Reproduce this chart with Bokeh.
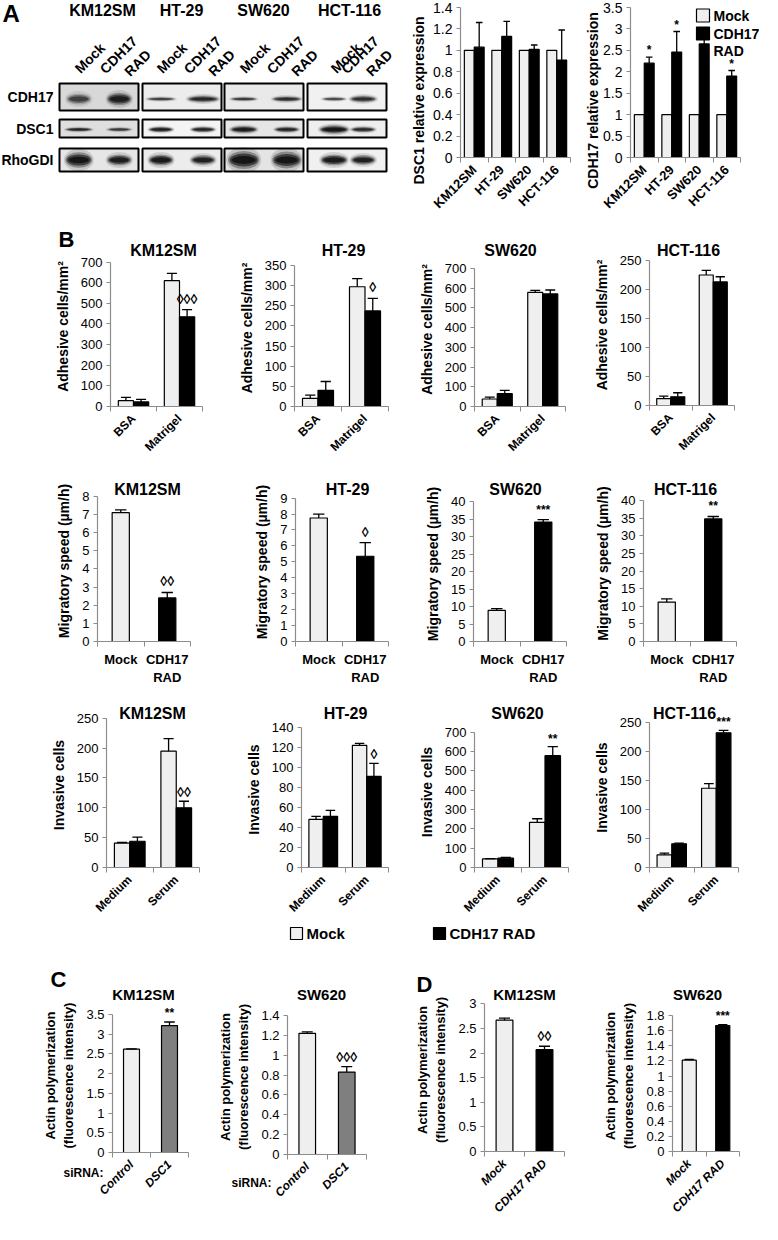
import math
from bokeh.plotting import figure
from bokeh.models import (Range1d, FixedTicker, NumeralTickFormatter, LabelSet, ColumnDataSource)
from bokeh.layouts import column, row
from bokeh.embed import file_html
from bokeh.resources import INLINE
from bokeh.core.properties import value

FONT = "Liberation Sans"
MOCK_C = "#efefef"
RAD_C = "#000000"
SI_C = "#7f7f7f"
AX_C = "#8c8c8c"
DM = "\u25ca"

# ---------------- DATA ----------------
cell_lines = ["KM12SM", "HT-29", "SW620", "HCT-116"]
legend_labels = ["Mock", "CDH17 RAD"]

# Panel A western blot: band strength (0-1), band width, band thickness (per cell line x [Mock, RAD])
blot_rows = ["CDH17", "DSC1", "RhoGDI"]
blot_lanes = ["Mock", "CDH17\nRAD"]
blot_strength = [
    [0.6, 0.9, 0.6, 0.8, 0.65, 0.75, 0.55, 0.75],
    [0.8, 0.65, 0.9, 0.85, 0.95, 0.85, 1.0, 0.8],
    [1.0, 0.9, 0.95, 0.9, 1.0, 1.0, 0.95, 0.9],
]
blot_width = [
    [22, 22, 26, 28, 24, 26, 22, 24],
    [24, 22, 22, 22, 24, 22, 26, 22],
    [24, 22, 22, 22, 28, 26, 24, 22],
]
blot_thick = [
    [8, 9, 3, 5, 3, 4, 3, 5],
    [3, 3, 4, 4, 5, 4, 6, 4],
    [11, 8, 8, 7, 13, 12, 8, 7],
]
blot_bg = [
    ["#d8d8d8", "#ececec", "#e9e9e9", "#f1f1f1"],
    ["#dedede", "#f4f4f4", "#e6e6e6", "#eeeeee"],
    ["#e6e6e6", "#ececec", "#e4e4e4", "#f0f0f0"],
]

# Panel A bar charts
a_mock = [1.0, 1.0, 1.0, 1.0]
a_mock_sd = [0, 0, 0, 0]
a_dsc1_rad = [1.03, 1.13, 1.01, 0.91]
a_dsc1_rad_sd = [0.23, 0.14, 0.04, 0.28]
a_cdh17_rad = [2.2, 2.46, 2.65, 1.9]
a_cdh17_rad_sd = [0.14, 0.48, 0.35, 0.13]
a_cdh17_sig = ["*", "*", "**", "*"]

# Panel B adhesion
adh_cats = ["BSA", "Matrigel"]
adh_mock = [[28, 610], [20, 297], [38, 578], [12, 225]]
adh_mock_sd = [[16, 35], [8, 20], [9, 10], [4, 8]]
adh_rad = [[22, 435], [40, 237], [65, 570], [15, 213]]
adh_rad_sd = [[13, 35], [22, 31], [17, 20], [7, 9]]
adh_sig = [["", DM * 3], ["", DM], ["", ""], ["", ""]]
adh_ymax = [700, 350, 700, 250]
adh_step = [100, 50, 100, 50]

# Panel B migration
mig_cats = ["Mock", "CDH17\nRAD"]
mig_vals = [[7.1, 2.4], [7.75, 5.35], [8.9, 34.2], [11.2, 34.8]]
mig_sd = [[0.15, 0.3], [0.25, 0.85], [0.5, 0.7], [0.9, 0.7]]
mig_sig = [["", DM * 2], ["", DM], ["", "***"], ["", "**"]]
mig_ymax = [8, 9, 40, 40]
mig_step = [1, 1, 5, 5]

# Panel B invasion
inv_cats = ["Medium", "Serum"]
inv_mock = [[41, 195], [48, 122], [45, 233], [22, 137]]
inv_mock_sd = [[1, 21], [3, 2], [1, 19], [3, 8]]
inv_rad = [[44, 100], [51, 91], [48, 578], [41, 233]]
inv_rad_sd = [[7, 11], [6, 13], [4, 47], [1, 4]]
inv_sig = [["", DM * 2], ["", DM], ["", "**"], ["", "***"]]
inv_ymax = [250, 140, 700, 250]
inv_step = [50, 20, 100, 50]

# Panel C (siRNA) and D
cd_lines = ["KM12SM", "SW620"]
c_cats = ["Control", "DSC1"]
c_vals = [[2.62, 3.22], [1.22, 0.83]]
c_sd = [[0.01, 0.09], [0.015, 0.055]]
c_sig = [["", "**"], ["", DM * 3]]
c_ymax = [3.5, 1.4]
c_step = [0.5, 0.2]
d_cats = ["Mock", "CDH17 RAD"]
d_vals = [[2.67, 2.07], [1.21, 1.67]]
d_sd = [[0.04, 0.07], [0.01, 0.01]]
d_sig = [["", DM * 2], ["", "***"]]
d_ymax = [3, 1.8]
d_step = [0.5, 0.2]


# ---------------- HELPERS ----------------
def G(x0, x1, fl, fr, ft, fb):
    return dict(x0=x0, x1=x1, fl=fl, fr=fr, ft=ft, fb=fb)


def bar_panel(g, h, ymax, ystep, cats, series, sig=None, sig_idx=0, ylab=None, bw=0.33,
              tick_fs="13px", lab_fs="14px", cat_fs="12px", cat_angle=math.pi / 4,
              cat_style="bold", lab_standoff=7, sig_off=2, ext=16):
    n = len(cats)
    y_end = ymax * (1 + ext / float(g["fb"] - g["ft"]))
    p = figure(width=g["x1"] - g["x0"], height=h, output_backend="svg", toolbar_location=None,
               x_range=Range1d(0.5, n + 0.5), y_range=Range1d(0, y_end),
               min_border_left=g["fl"] - g["x0"], min_border_right=g["x1"] - g["fr"],
               min_border_top=g["ft"] - ext, min_border_bottom=h - g["fb"])
    p.grid.visible = False
    p.outline_line_color = None
    ns = len(series)
    pos = []
    for k, (vals, sds, colors) in enumerate(series):
        off = (k - (ns - 1) / 2.0) * bw
        xs = [i + 1 + off for i in range(n)]
        pos.append(xs)
        p.vbar(x=xs, top=vals, width=bw, bottom=0, fill_color=colors,
               line_color="black", line_width=1.2)
        ex = [x for x, s in zip(xs, sds) if s > 0]
        ey0 = [v for v, s in zip(vals, sds) if s > 0]
        ey1 = [v + s for v, s in zip(vals, sds) if s > 0]
        if ex:
            cw = bw * 0.33
            p.segment(x0=ex, y0=ey0, x1=ex, y1=ey1, line_color="black", line_width=1.3)
            p.segment(x0=[x - cw for x in ex], y0=ey1, x1=[x + cw for x in ex], y1=ey1,
                      line_color="black", line_width=1.3)
    if sig is not None:
        vals, sds, _ = series[sig_idx]
        sig_fs = "12px" if any("*" in s for s in sig) else "14px"
        src = ColumnDataSource(dict(x=pos[sig_idx], y=[v + s for v, s in zip(vals, sds)], t=sig))
        p.add_layout(LabelSet(x="x", y="y", text="t", source=src, y_offset=sig_off,
                              text_align="center", text_baseline="bottom",
                              text_font=value(FONT), text_font_size=value(sig_fs),
                              text_font_style="bold", text_color="black"))
    ya = p.yaxis[0]
    yt = [round(i * ystep, 6) for i in range(int(round(ymax / ystep)) + 1)]
    ya.ticker = FixedTicker(ticks=yt)
    ya.bounds = (0, ymax)
    ya.formatter = NumeralTickFormatter(format="0.[0]")
    ya.major_tick_out = 4
    ya.major_tick_in = 0
    ya.minor_tick_out = 0
    ya.minor_tick_in = 0
    ya.major_label_standoff = 4
    ya.major_label_text_font_size = tick_fs
    xa = p.xaxis[0]
    xa.ticker = FixedTicker(ticks=list(range(1, n + 1)), minor_ticks=[i + 0.5 for i in range(n + 1)])
    xa.major_label_overrides = {i + 1: c for i, c in enumerate(cats)}
    xa.major_tick_out = 0
    xa.major_tick_in = 0
    xa.minor_tick_out = 5
    xa.minor_tick_in = 0
    xa.major_label_orientation = cat_angle
    xa.major_label_text_font_size = cat_fs
    xa.major_label_text_font_style = cat_style
    xa.major_label_standoff = 5
    for ax in (xa, ya):
        ax.axis_line_color = AX_C
        ax.axis_line_width = 1.2
        ax.major_tick_line_color = AX_C
        ax.minor_tick_line_color = AX_C
        ax.major_label_text_font = FONT
        ax.major_label_text_color = "black"
    if ylab:
        ya.axis_label = ylab
        ya.axis_label_text_font = FONT
        ya.axis_label_text_font_size = lab_fs
        ya.axis_label_text_font_style = "bold"
        ya.axis_label_standoff = lab_standoff
        ya.axis_label_text_color = "black"
    return p


def blank(w, h):
    b = figure(width=w, height=h, output_backend="svg", toolbar_location=None,
               x_range=Range1d(0, 1), y_range=Range1d(0, 1), min_border=0,
               x_axis_location=None, y_axis_location=None)
    b.grid.visible = False
    b.outline_line_color = None
    return b


def wrap(figs):
    return row(*[column(f) for f in figs])


# ---------------- ROW A ----------------
HA = 220
# western blot geometry (pixels of the blot picture)
pl = [58, 141, 223, 306]
pw = 81
rt = [82, 118, 147]
rb = [111, 138, 172]
lane_frac = [[0.25, 0.75], [0.24, 0.76], [0.25, 0.78], [0.34, 0.70]]
band_dy = [2, 1, 0]

# lane labels: rotated labels of an axis hanging under a thin top strip
lane_head = figure(width=395, height=HA, output_backend="svg", toolbar_location=None,
                   x_range=Range1d(0, 395), y_range=Range1d(0, 1), min_border_left=0,
                   min_border_right=0, min_border_top=0, min_border_bottom=HA - 36,
                   y_axis_location=None)
lane_head.grid.visible = False
lane_head.outline_line_color = None
lane_ticks, lane_text = [], []
for i in range(4):
    for j in range(2):
        lane_ticks.append(int(round(pl[i] + lane_frac[i][j] * pw + (24 if j == 0 else 22))))
        lane_text.append(blot_lanes[j])
lx = lane_head.xaxis[0]
lx.ticker = FixedTicker(ticks=lane_ticks)
lx.major_label_overrides = {t: s for t, s in zip(lane_ticks, lane_text)}
lx.major_label_orientation = math.pi / 4
lx.major_label_text_font = FONT
lx.major_label_text_font_style = "bold"
lx.major_label_text_font_size = "14px"
lx.major_label_text_color = "black"
lx.major_label_standoff = 3
lx.axis_line_color = None
lx.major_tick_line_color = None
lx.minor_tick_line_color = None

gA1 = G(395, 575, 460, 570, 7, 157)
pA1 = bar_panel(gA1, HA, 1.4, 0.2, cell_lines,
                [(a_mock, a_mock_sd, MOCK_C), (a_dsc1_rad, a_dsc1_rad_sd, RAD_C)],
                bw=0.36, tick_fs="14px", cat_fs="13px", ext=0)
gA2 = G(575, 762, 630, 740, 7, 157)
pA2 = bar_panel(gA2, HA, 3.5, 0.5, cell_lines,
                [(a_mock, a_mock_sd, MOCK_C), (a_cdh17_rad, a_cdh17_rad_sd, RAD_C)],
                sig=a_cdh17_sig, sig_idx=1, bw=0.36, tick_fs="14px", cat_fs="13px", sig_off=0,
                ext=0)
rowA = wrap([lane_head, pA1, pA2])

# ---------------- ROW B ----------------
fig_x = [(0, 235), (235, 415), (415, 590), (590, 762)]
adh_fr = [(110, 202, 42, 190), (293, 388, 45, 187), (471, 565, 48, 188), (643, 734, 40, 185)]
mig_fr = [(97, 190, 35, 182), (295, 388, 37, 184), (473, 566, 41, 187), (643, 736, 40, 189)]
inv_fr = [(106, 199, 31, 182), (301, 388, 40, 182), (471, 568, 45, 184), (641, 738, 36, 186)]
HB1, HB2, HB3, HL, HCD = 241, 226, 235, 24, 276

b1, b2, b3 = [], [], []
for i in range(4):
    g = G(fig_x[i][0], fig_x[i][1], *adh_fr[i])
    b1.append(bar_panel(g, HB1, adh_ymax[i], adh_step[i], adh_cats,
                        [(adh_mock[i], adh_mock_sd[i], MOCK_C), (adh_rad[i], adh_rad_sd[i], RAD_C)],
                        sig=adh_sig[i], sig_idx=1, ylab="Adhesive cells/mm\u00b2", sig_off=3))
    g = G(fig_x[i][0], fig_x[i][1], *mig_fr[i])
    b2.append(bar_panel(g, HB2, mig_ymax[i], mig_step[i], mig_cats,
                        [(mig_vals[i], mig_sd[i], [MOCK_C, RAD_C])], sig=mig_sig[i], sig_idx=0,
                        ylab="Migratory speed (\u00b5m/h)", bw=0.37, cat_fs="13px",
                        cat_angle="horizontal", sig_off=3))
    g = G(fig_x[i][0], fig_x[i][1], *inv_fr[i])
    b3.append(bar_panel(g, HB3, inv_ymax[i], inv_step[i], inv_cats,
                        [(inv_mock[i], inv_mock_sd[i], MOCK_C), (inv_rad[i], inv_rad_sd[i], RAD_C)],
                        sig=inv_sig[i], sig_idx=1, ylab="Invasive cells", sig_off=1))

# ---------------- ROW C / D ----------------
cd_x = [(0, 215), (215, 400), (400, 600), (600, 762)]
cd_fr = [(112, 188, 68, 206), (287, 366, 69, 208), (484, 564, 58, 211), (665, 739, 70, 213)]
ACT = "Actin polymerization\n(fluorescence intensity)"
cd = []
for j in range(2):
    g = G(cd_x[j][0], cd_x[j][1], *cd_fr[j])
    cd.append(bar_panel(g, HCD, c_ymax[j], c_step[j], c_cats, [(c_vals[j], c_sd[j], [MOCK_C, SI_C])],
                        sig=c_sig[j], sig_idx=0, ylab=ACT, bw=0.42, lab_fs="13px",
                        cat_style="bold italic", sig_off=2))
for j in range(2):
    g = G(cd_x[j + 2][0], cd_x[j + 2][1], *cd_fr[j + 2])
    cd.append(bar_panel(g, HCD, d_ymax[j], d_step[j], d_cats, [(d_vals[j], d_sd[j], [MOCK_C, RAD_C])],
                        sig=d_sig[j], sig_idx=0, ylab=ACT, bw=0.42, lab_fs="13px",
                        cat_style="bold italic", sig_off=2))

# ---------------- OVERLAY: blot, panel letters, titles, legends ----------------
TOTAL = HA + HB1 + HB2 + HB3 + HL + HCD
oB1 = HA
oB2 = oB1 + HB1
oB3 = oB2 + HB2
oL = oB3 + HB3
oCD = oL + HL

ov = figure(width=762, height=TOTAL, output_backend="svg", toolbar_location=None,
            x_range=Range1d(0, 762), y_range=Range1d(0, TOTAL), min_border=0,
            x_axis_location=None, y_axis_location=None, margin=(-TOTAL, 0, 0, 0))
ov.grid.visible = False
ov.outline_line_color = None
ov.background_fill_alpha = 0
ov.border_fill_alpha = 0


def Y(v):
    return TOTAL - v


def otext(xs, ys, texts, size, align="center", style="bold", baseline="middle", angle=0.0):
    ov.text(x=xs, y=[Y(y) for y in ys], text=texts, text_font=value(FONT),
            text_font_size=value(size), text_font_style=style, text_align=align,
            text_baseline=baseline, text_color="black", angle=angle)


def okeys(xs, ys, colors, size=13):
    ov.rect(x=[x + size / 2.0 for x in xs], y=[Y(y) for y in ys], width=size, height=size,
            fill_color=colors, line_color="black", line_width=1.2)


# western blot (panel A)
L, R, T, B, C = [], [], [], [], []
for r in range(3):
    for i in range(4):
        L.append(pl[i] + 1); R.append(pl[i] + pw - 1)
        T.append(Y(rt[r] + 1)); B.append(Y(rb[r] - 1)); C.append(blot_bg[r][i])
ov.quad(left=L, right=R, top=T, bottom=B, fill_color=C, line_color="black", line_width=2)
for wm, hm, am in [(1.25, 2.0, 0.14), (1.12, 1.4, 0.33), (1.0, 1.0, 0.6), (0.85, 0.6, 0.8)]:
    xs, ys, ws, hs, als = [], [], [], [], []
    for r in range(3):
        for i in range(4):
            for j in range(2):
                k = i * 2 + j
                xs.append(pl[i] + lane_frac[i][j] * pw)
                ys.append(Y((rt[r] + rb[r]) / 2 + band_dy[r]))
                ws.append(blot_width[r][k] * wm)
                hs.append(blot_thick[r][k] * hm)
                als.append(min(1.0, blot_strength[r][k] * am))
    ov.ellipse(x=xs, y=ys, width=ws, height=hs, fill_color="#0d0d0d", fill_alpha=als, line_alpha=0)
otext([53] * 3, [(rt[r] + rb[r]) / 2 for r in range(3)], blot_rows, "14px", align="right")
otext([102, 181, 263, 349], [10] * 4, cell_lines, "16px")
# panel A y-axis titles
otext([418, 592], [100, 100], ["DSC1 relative expression", "CDH17 relative expression"], "14px",
      angle=math.pi / 2)
# panel A legend
okeys([696, 696], [15, 33], [MOCK_C, RAD_C])
otext([713, 713, 713], [15, 33, 50], ["Mock", "CDH17", "RAD"], "14px", align="left")
# letters
otext([2], [13], ["A"], "24px", align="left")
otext([58], [oB1 + 19], ["B"], "22px", align="left")
otext([50], [oCD + 33], ["C"], "22px", align="left")
otext([416], [oCD + 38], ["D"], "22px", align="left")
# row titles
otext([163, 343, 510, 688], [oB1 + 30] * 4, cell_lines, "16px")
otext([147, 347, 515, 685], [oB2 + 28] * 4, cell_lines, "16px")
otext([152, 345, 517, 684], [oB3 + 26] * 4, cell_lines, "16px")
# legend row
okeys([290, 433], [oL + 11] * 2, [MOCK_C, RAD_C], size=12)
otext([306, 449], [oL + 11] * 2, legend_labels, "15px", align="left")
# C / D titles and siRNA labels
otext([143, 321], [oCD + 48] * 2, cd_lines, "15px")
otext([524, 697], [oCD + 48] * 2, cd_lines, "15px")
otext([83, 251], [oCD + 226, oCD + 236], ["siRNA:", "siRNA:"], "12px")

page = column(rowA, wrap(b1), wrap(b2), wrap(b3), blank(762, HL), wrap(cd), ov)
open("out.html", "w").write(file_html(page, INLINE, title="CDH17 figure"))
